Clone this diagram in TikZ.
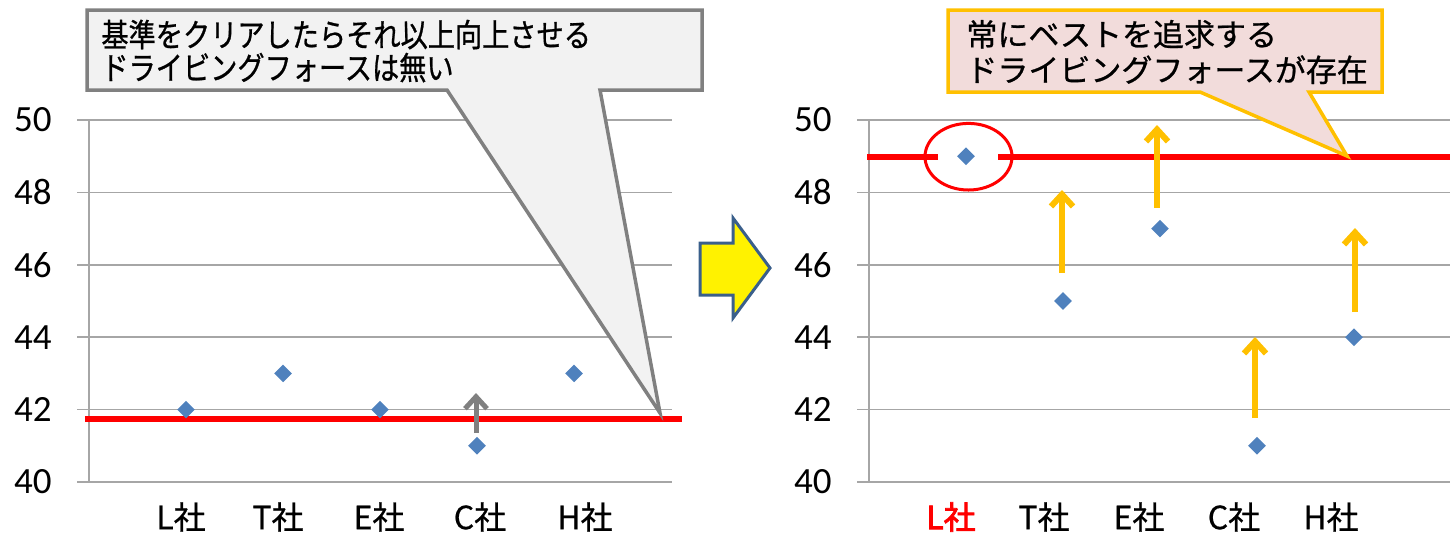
\documentclass[tikz,border=0pt]{standalone}
\usepackage{fontspec}
\setmainfont{Carlito}
\newfontfamily\jp[FakeBold=0.6]{Noto Sans CJK JP}
\newfontfamily\jpn[FakeStretch=0.85,FakeBold=0.8]{Noto Sans CJK JP}
\newfontfamily\jpr[FakeBold=0.8]{Noto Sans CJK JP}
\newfontfamily\jpb[FakeBold=2.5]{Noto Sans CJK JP}
\usetikzlibrary{arrows.meta,shapes.geometric}
\definecolor{gridc}{HTML}{A6A6A6}
\definecolor{ptc}{HTML}{4F81BD}
\definecolor{orng}{HTML}{FFC000}
\definecolor{grayar}{HTML}{808080}
\definecolor{calfill}{HTML}{F2F2F2}
\definecolor{pinkfill}{HTML}{F2DCDB}
\definecolor{arrowborder}{HTML}{3A5F8B}
\begin{document}
\begin{tikzpicture}[x=0.5pt,y=-0.5pt,
  gridline/.style={gridc,line width=0.75pt},
  datapt/.style={diamond,fill=ptc,inner sep=0pt,minimum width=9pt,minimum height=9pt},
  ticklab/.style={anchor=east,font=\fontsize{18.5}{20}\selectfont,inner sep=0pt},
  catlab/.style={font=\jp\fontsize{16}{18}\selectfont,inner sep=0pt},
  redline/.style={red,line width=3pt},
  uparrow/.style={orng,line width=3pt,-{Straight Barb[length=6pt,width=11pt]}},
  grayarrow/.style={grayar,line width=2.5pt,-{Straight Barb[length=6pt,width=11pt]}},
  callout/.style={line width=1.75pt,line join=miter},
]
\useasboundingbox (0,0) rectangle (1450,532);

% ---------- left chart ----------
\foreach \v in {40,42,...,50}{
  \pgfmathsetmacro{\yy}{482-36.2*(\v-40)}
  \draw[gridline] (77,\yy) -- (672,\yy);
  \node[ticklab] (lt\v) at (52,\yy) {\v};
}
\draw[gridline] (89,120) -- (89,482);
\draw[redline] (85,418.6) -- (682,418.6);
\foreach \c/\v/\lx/\nm in {1/42/181/L,2/43/278/T,3/42/379/E,4/41/480/C,5/43/585/H}{
  \pgfmathsetmacro{\px}{89+97*\c}
  \pgfmathsetmacro{\py}{482-36.2*(\v-40)}
  \node[datapt] (lp\nm) at (\px,\py) {};
  \node[catlab] (lc\nm) at (\lx,517) {\nm 社};
}
\coordinate (ga1) at (476,433);
\coordinate (ga2) at (476,393);
\draw[grayarrow] (ga1) -- (ga2);

% left callout
\draw[callout,draw=grayar,fill=calfill]
  (87,10) -- (702,10) -- (702,90) -- (600,90) -- (660,413) -- (447,90) -- (87,90) -- cycle;
\node[anchor=west,align=left,inner sep=0pt,font=\jpn\fontsize{16}{16.5}\selectfont] (lcall) at (101,51)
  {基準をクリアしたらそれ以上向上させる\\ドライビングフォースは無い};

% ---------- block arrow ----------
\draw[arrowborder,line width=1.5pt,fill=yellow,line join=miter]
  (700,243) -- (733,243) -- (733,218) -- (770,268) -- (733,318) -- (733,295) -- (700,295) -- cycle;

% ---------- right chart ----------
\foreach \v in {40,42,...,50}{
  \pgfmathsetmacro{\yy}{482-36.2*(\v-40)}
  \draw[gridline] (857,\yy) -- (1450,\yy);
  \node[ticklab] (rt\v) at (832,\yy) {\v};
}
\draw[gridline] (869,120) -- (869,482);
\draw[redline] (867,156.5) -- (938,156.5);
\draw[redline] (998,156.5) -- (1450,156.5);
\draw[red,line width=1.5pt] (968.5,156.7) ellipse [x radius=43.5, y radius=33.3];
\foreach \c/\v/\nm in {1/49/L,2/45/T,3/47/E,4/41/C,5/44/H}{
  \pgfmathsetmacro{\px}{869+97*\c}
  \pgfmathsetmacro{\py}{482-36.2*(\v-40)}
  \node[datapt] (rp\nm) at (\px,\py) {};
}
\node[catlab,font=\jpb\fontsize{16}{18}\selectfont,text=red] (rcL) at (951,517) {L社};
\foreach \lx/\nm in {1044/T,1139/E,1234/C,1331/H}{
  \node[catlab] (rc\nm) at (\lx,517) {\nm 社};
}
\foreach \nm/\ax/\ya/\yb in {T/1062/273/190,E/1157/208/125,C/1255/418/337,H/1355/312/228}{
  \coordinate (oa\nm) at (\ax,\ya);
  \coordinate (ob\nm) at (\ax,\yb);
  \draw[uparrow] (oa\nm) -- (ob\nm);
}

% right callout
\draw[callout,draw=orng,fill=pinkfill]
  (948,10) -- (1382,10) -- (1382,92) -- (1309,92) -- (1347,156) -- (1200,92) -- (948,92) -- cycle;
\node[anchor=west,align=left,inner sep=0pt,font=\jpr\fontsize{15.5}{17.75}\selectfont] (rcall) at (966,52)
  {常にベストを追求する\\ドライビングフォースが存在};
\end{tikzpicture}
\end{document}
